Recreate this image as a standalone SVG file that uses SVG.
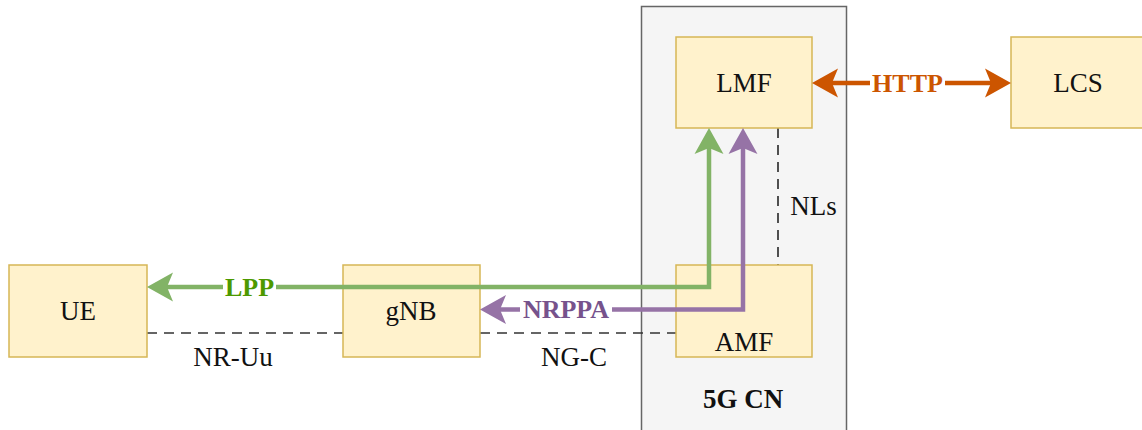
<svg xmlns="http://www.w3.org/2000/svg" width="1142" height="430" viewBox="0 0 1142 430">
  <style>
    .box { fill: #fff2cc; stroke: #d6b656; stroke-width: 1.5; }
    .lbl { font-family: "Liberation Serif", "Times New Roman", serif; font-size: 27px; fill: #111; text-anchor: middle; dominant-baseline: central; }
    .bold { font-weight: bold; font-size: 26px; }
    .dash { fill: none; stroke: #333; stroke-width: 1.7; stroke-dasharray: 10 7; }
    .conn { fill: none; stroke-width: 4.5; stroke-linejoin: miter; }
  </style>
  <defs>
    <marker id="ahG" markerUnits="userSpaceOnUse" markerWidth="30" markerHeight="32" refX="6" refY="15" orient="auto-start-reverse">
      <path d="M0,0.5 L26,15 L0,29.5 L6,15 Z" fill="#82b366"/>
    </marker>
    <marker id="ahP" markerUnits="userSpaceOnUse" markerWidth="30" markerHeight="32" refX="6" refY="15" orient="auto-start-reverse">
      <path d="M0,0.5 L26,15 L0,29.5 L6,15 Z" fill="#9673a6"/>
    </marker>
    <marker id="ahO" markerUnits="userSpaceOnUse" markerWidth="30" markerHeight="32" refX="6" refY="15" orient="auto-start-reverse">
      <path d="M0,0.5 L26,15 L0,29.5 L6,15 Z" fill="#cc5500"/>
    </marker>
  </defs>

  <g id="cn5g">
    <rect x="641.5" y="6.5" width="205" height="440" fill="#f5f5f5" stroke="#666666" stroke-width="1.5"/>
    <text class="lbl bold" style="font-size:27px" x="743" y="399">5G CN</text>
  </g>

  <g id="connectors">
    <path class="dash" d="M147,333 L343,333"/>
    <path class="dash" d="M480,333 L676,333"/>
    <path class="dash" d="M778,128 L778,265"/>
  </g>

  <g id="UE">
    <rect class="box" x="9" y="265" width="138" height="92"/>
    <text class="lbl" x="78" y="311">UE</text>
  </g>
  <g id="gNB">
    <rect class="box" x="343" y="265" width="137" height="92"/>
    <text class="lbl" x="411" y="311">gNB</text>
  </g>
  <g id="AMF">
    <rect class="box" x="676" y="265" width="136" height="92"/>
    <text class="lbl" x="744" y="342">AMF</text>
  </g>
  <g id="LMF">
    <rect class="box" x="676" y="37" width="136" height="91"/>
    <text class="lbl" x="744" y="83">LMF</text>
  </g>
  <g id="LCS">
    <rect class="box" x="1011" y="37" width="140" height="91"/>
    <text class="lbl" x="1078" y="83">LCS</text>
  </g>

  <g id="arrows">
    <path class="conn" stroke="#82b366" d="M167,287 L709,287 L709,148" marker-start="url(#ahG)" marker-end="url(#ahG)"/>
    <path class="conn" stroke="#9673a6" d="M500,309.5 L743,309.5 L743,148" marker-start="url(#ahP)" marker-end="url(#ahP)"/>
    <path class="conn" stroke="#cc5500" d="M832,83 L991,83" marker-start="url(#ahO)" marker-end="url(#ahO)"/>
  </g>

  <g id="labels">
    <rect x="223" y="276" width="53" height="22" fill="#ffffff"/>
    <text class="lbl bold" style="fill:#4d9900" x="249.5" y="287">LPP</text>
    <rect x="520" y="298" width="92" height="23" fill="#ffffff"/>
    <text class="lbl bold" style="fill:#76528c" x="566" y="309.5">NRPPA</text>
    <rect x="870" y="72" width="75" height="22" fill="#ffffff"/>
    <text class="lbl bold" style="fill:#cc5500" x="907.5" y="83">HTTP</text>
    <text class="lbl" x="233" y="357">NR-Uu</text>
    <text class="lbl" x="574" y="357">NG-C</text>
    <text class="lbl" x="813.5" y="206">NLs</text>
  </g>
</svg>
